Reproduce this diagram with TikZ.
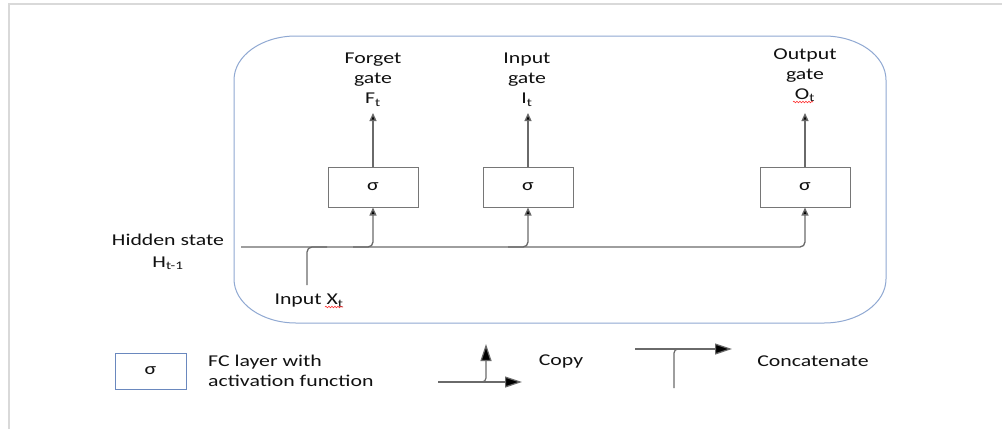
\documentclass[tikz,border=0pt]{standalone}
\usepackage{fontspec}
\setmainfont{Carlito}[FakeStretch=1.32]
\usetikzlibrary{arrows.meta,decorations.pathmorphing}
\definecolor{txt}{HTML}{111111}
\definecolor{conncol}{HTML}{6A6A6A}
\definecolor{boxcol}{HTML}{767676}
\definecolor{cellcol}{HTML}{8FA8D2}
\definecolor{legcol}{HTML}{6A88BE}
\definecolor{pagecol}{HTML}{D9D9D9}
\begin{document}
\begin{tikzpicture}[x=1pt,y=-1pt,
  every node/.style={font=\fontsize{16.5}{20}\selectfont, text=txt, inner sep=0pt},
  gatebox/.style={draw=boxcol, line width=1pt, minimum width=90pt, minimum height=40pt},
  legbox/.style={draw=legcol, line width=1pt, minimum width=71pt, minimum height=36pt},
  conn/.style={draw=conncol, line width=1.3pt, rounded corners=5pt},
  flow/.style={conn, -{Triangle[length=8pt,width=7pt,fill=black]}},
  bigflow/.style={draw=conncol, line width=1.2pt, rounded corners=4pt, -{Triangle[length=17pt,width=11pt,fill=black]}},
  squiggle/.style={draw=red!80!white, line width=0.6pt, decorate, decoration={snake, amplitude=0.8pt, segment length=3pt}}
]
\useasboundingbox (0,0) rectangle (1002,429);
\fill[white] (0,0) rectangle (1002,429);

% page edge
\draw[pagecol, line width=2pt] (9,429) -- (9,4) -- (1002,4);

% LSTM cell outline with elliptical corners
\draw[cellcol, line width=1pt]
  (296,36) -- (824,36) arc[start angle=270, end angle=360, x radius=62, y radius=44]
  -- (886,279) arc[start angle=0, end angle=90, x radius=62, y radius=44]
  -- (296,323) arc[start angle=90, end angle=180, x radius=62, y radius=44]
  -- (234,80) arc[start angle=180, end angle=270, x radius=62, y radius=44];

% gate layers
\node[gatebox] (fg) at (373,187) {σ};
\node[gatebox] (ig) at (528,187) {σ};
\node[gatebox] (og) at (805,187) {σ};

% gate outputs
\node[align=center] (fl) at (373,80) {Forget\\gate\\F\textsubscript{t}};
\node[align=center] (il) at (527,80) {Input\\gate\\I\textsubscript{t}};
\node[align=center] (ol) at (805,75) {Output\\gate\\O\textsubscript{t}};
\draw[squiggle] (793,102) -- (813,102);

\coordinate (fo) at (373,113);
\coordinate (io) at (528,113);
\coordinate (oo) at (805,113);
\draw[flow] (fg.north) -- (fo);
\draw[flow] (ig.north) -- (io);
\draw[flow] (og.north) -- (oo);

% inputs
\node[align=center] (hl) at (168,252) {Hidden state\\[2pt]H\textsubscript{t-1}};
\node (xl) at (309,301) {Input X\textsubscript{t}};
\draw[squiggle] (325,307) -- (343,307);

\coordinate (hs) at (241,247);
\coordinate (xs) at (307,285);
\draw[flow] (hs) -| (og.south);
\draw[flow] (353,247) -| (fg.south);
\draw[flow] (508,247) -| (ig.south);
\draw[conn] (xs) |- (327,247);

% legend
\node[legbox] (lb) at (150.5,371) {σ};
\node[align=left, anchor=west] (lt) at (208,370.5) {FC layer with\\activation function};

\coordinate (cp0) at (438,382);
\coordinate (cp1) at (522,382);
\coordinate (cp2) at (486,344);
\draw[bigflow] (cp0) -- (cp1);
\draw[bigflow] (466,382) -| (cp2);
\node (cpl) at (561,361) {Copy};

\coordinate (cc0) at (635,349);
\coordinate (cc1) at (732,349);
\coordinate (cc2) at (674,388);
\draw[bigflow] (cc0) -- (cc1);
\draw[draw=conncol, line width=1.2pt, rounded corners=4pt] (cc2) |- (694,349);
\node (ccl) at (813,361) {Concatenate};
\end{tikzpicture}
\end{document}
